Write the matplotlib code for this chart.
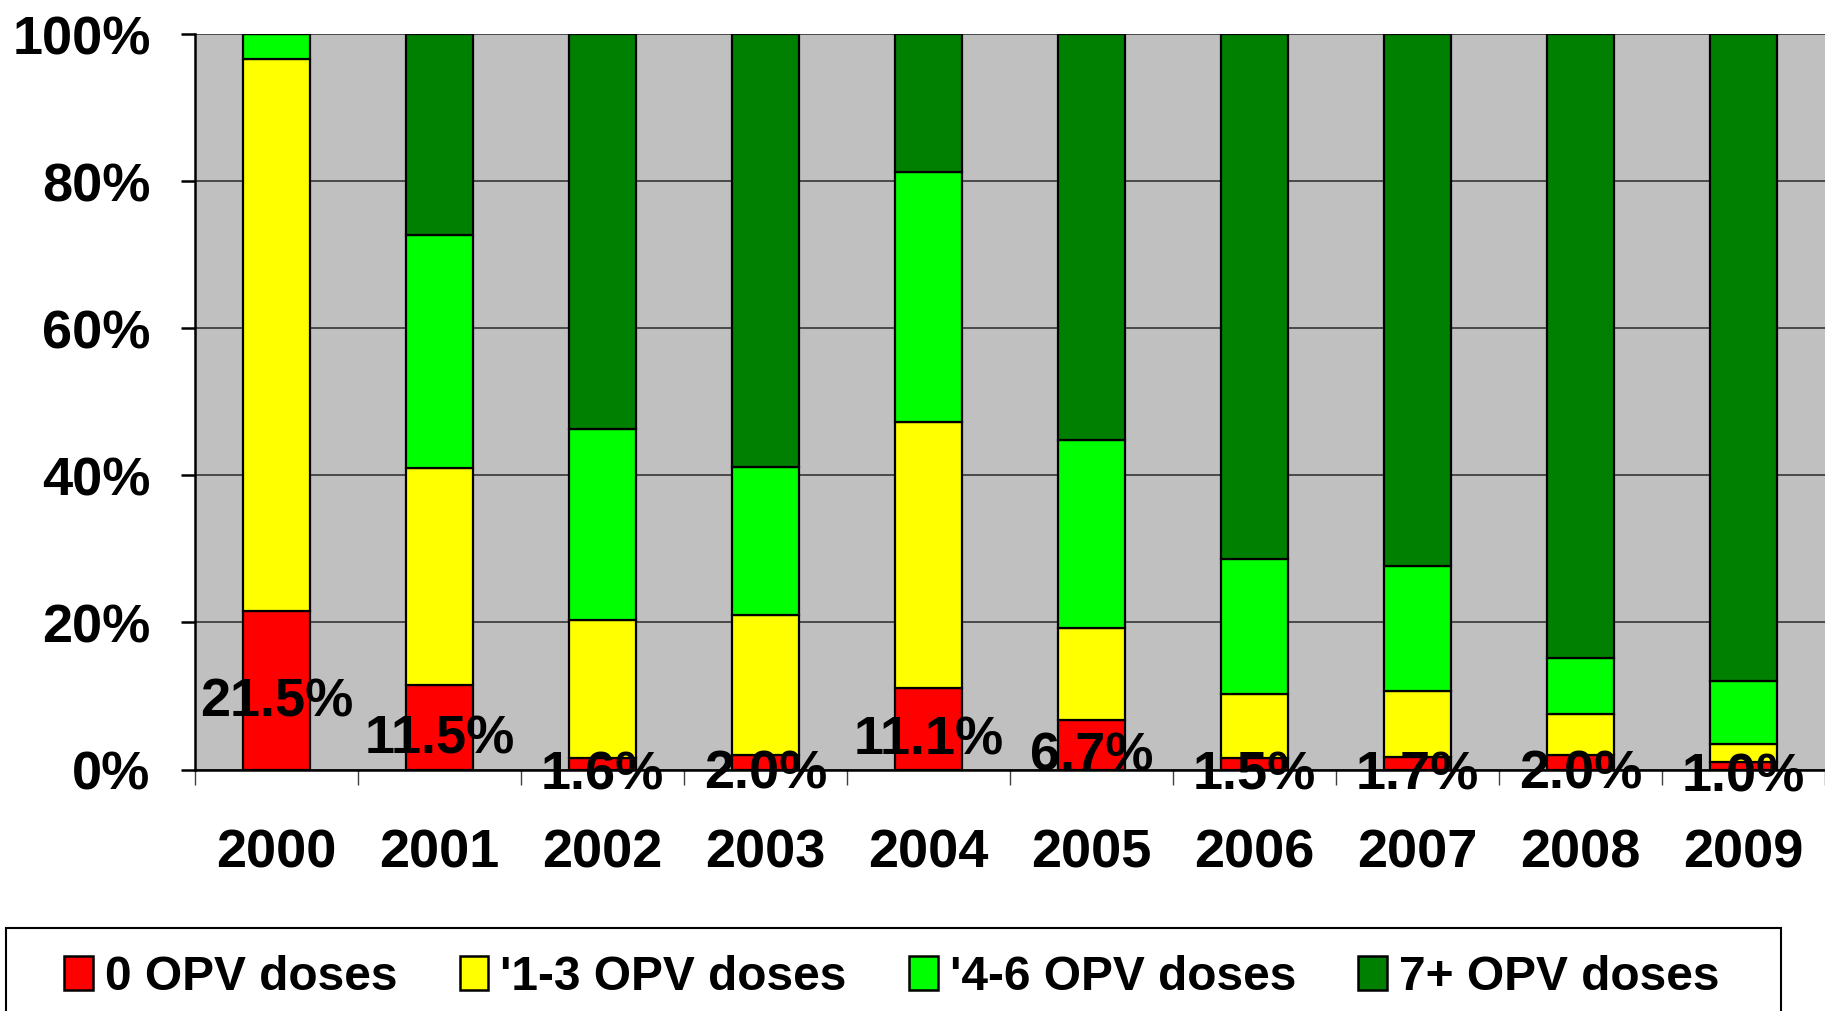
import matplotlib
matplotlib.use("Agg")
import matplotlib.pyplot as plt
from matplotlib.patches import Rectangle
import numpy as np

years = ["2000", "2001", "2002", "2003", "2004", "2005", "2006", "2007", "2008", "2009"]
dose0 = [21.5, 11.5, 1.6, 2.0, 11.1, 6.7, 1.5, 1.7, 2.0, 1.0]
dose1_3 = [75.1, 29.5, 18.7, 19.0, 36.1, 12.6, 8.7, 9.0, 5.6, 2.5]
dose4_6 = [3.4, 31.7, 26.0, 20.1, 34.1, 25.5, 18.4, 17.0, 7.5, 8.5]
dose7 = [0.0, 27.3, 53.7, 58.9, 18.7, 55.2, 71.4, 72.3, 84.9, 88.0]
series_names = ["0 OPV doses", "'1-3 OPV doses", "'4-6 OPV doses", "7+ OPV doses"]
colors = ["#FF0000", "#FFFF00", "#00FF00", "#008000"]

plt.rcParams['font.family'] = ['Liberation Sans', 'DejaVu Sans']
plt.rcParams['font.weight'] = 'bold'
FS = 39

W, H = 1825, 1012
fig = plt.figure(figsize=(W / 100, H / 100), dpi=100)
ax = fig.add_axes([195 / W, 1 - 770.5 / H, 1 - 195 / W, (770.5 - 35) / H])
ax.set_facecolor("#C0C0C0")

x = np.arange(len(years))
bottom = np.zeros(len(years))
for vals, c, name in zip([dose0, dose1_3, dose4_6, dose7], colors, series_names):
    ax.bar(x, vals, 0.41, bottom=bottom, color=c, edgecolor="black", linewidth=1.6,
           label=name, zorder=3)
    bottom = bottom + np.array(vals)

# labels for the 0-dose share
for i, v in enumerate(dose0):
    ax.annotate(f"{v:.1f}%", (x[i], v / 2), xytext=(0, -25), textcoords="offset pixels",
                ha="center", va="baseline", fontsize=FS, fontweight="bold", zorder=5,
                annotation_clip=False)

ax.set_xlim(-0.5, len(years) - 0.5)
ax.set_ylim(0, 100)
ax.set_yticks(np.arange(0, 101, 20))
ax.set_yticklabels([f"{v}%" for v in range(0, 101, 20)], fontsize=FS, fontweight="bold")
ax.yaxis.grid(True, color="#404040", linewidth=1.3, zorder=1)
ax.tick_params(axis="y", length=10, width=1.8, pad=22, direction="out")

ax.set_xticks(x)
ax.set_xticklabels(years, fontsize=FS, fontweight="bold")
ax.set_xticks(np.arange(-0.5, len(years), 1), minor=True)
ax.tick_params(axis="x", which="major", length=0, pad=42)
ax.tick_params(axis="x", which="minor", length=11, width=1.0, color="#404040")

for s in ["top", "right"]:
    ax.spines[s].set_visible(False)
ax.spines["left"].set_linewidth(1.8)
ax.spines["bottom"].set_linewidth(1.8)

# legend box runs off the bottom of the picture
fig.patches.append(Rectangle((6 / W, -0.05), 1775 / W, 0.05 + 1 - 929 / H,
                             transform=fig.transFigure, facecolor="white",
                             edgecolor="black", linewidth=1.5, zorder=0))
leg = fig.legend(loc="center left", bbox_to_anchor=(64 / W, 1 - 978 / H),
                 ncol=4, frameon=False,
                 handlelength=0.6, handleheight=0.7, handletextpad=0.25,
                 borderaxespad=0, borderpad=0, columnspacing=1.3,
                 prop={"weight": "bold", "size": 34.5})
for h in leg.legend_handles:
    h.set_linewidth(1.8)

fig.savefig("out.png", dpi=100)
